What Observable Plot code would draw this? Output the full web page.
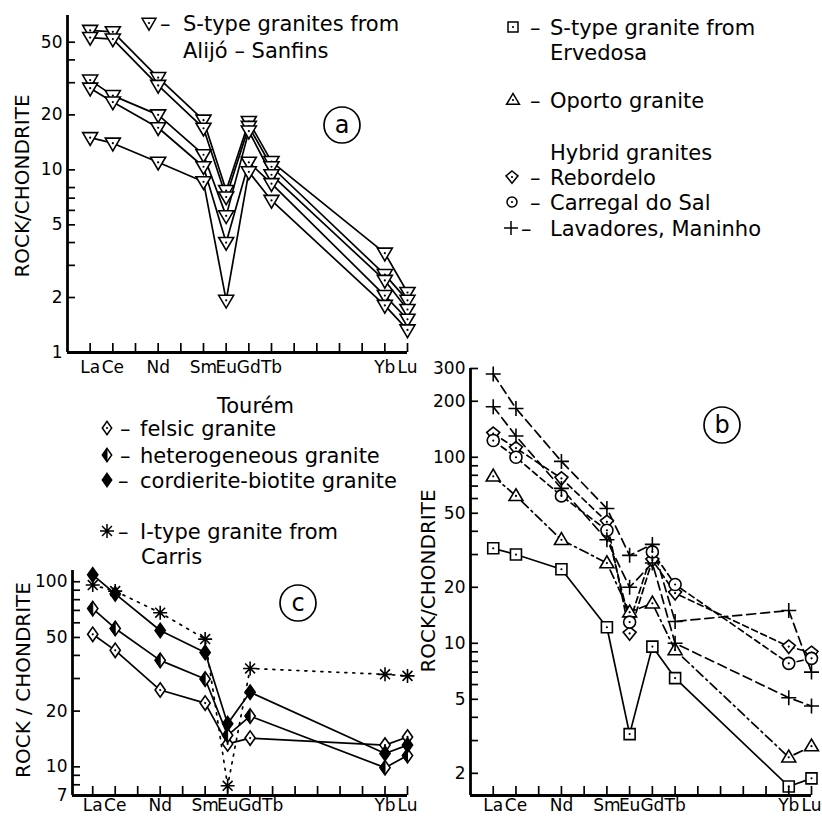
<!DOCTYPE html>
<html><head><meta charset="utf-8">
<script src="https://cdn.jsdelivr.net/npm/d3@7"></script>
<script src="https://cdn.jsdelivr.net/npm/@observablehq/plot@0.6"></script>
<style>
html,body{margin:0;padding:0;background:#fff;}
#wrap{position:relative;width:822px;height:817px;overflow:hidden;background:#fff;}
#wrap svg{position:absolute;left:0;top:0;}
</style></head><body><div id="wrap"></div>
<script>
// ---- REE sequence and tick labels ----
const elements = ["La","Ce","Pr","Nd","Pm","Sm","Eu","Gd","Tb","Dy","Ho","Er","Tm","Yb","Lu"];
const labeledElements = ["La","Ce","Nd","Sm","Eu","Gd","Tb","Yb","Lu"];

// ---- panel (a): S-type granites from Alijó-Sanfins ----
const measuredA = ["La","Ce","Nd","Sm","Eu","Gd","Tb","Yb","Lu"];
const alijo1 = [58, 57, 32, 18.7, 7.7, 18.4, 11.1, 3.5, 2.13];
const alijo2 = [53, 52, 29, 16.9, 7.1, 17.3, 10.4, 2.67, 1.93];
const alijo3 = [31, 25.5, 20, 12.1, 5.6, 16.3, 9.4, 2.48, 1.72];
const alijo4 = [28, 23.5, 17, 10.4, 4.0, 11.0, 8.4, 2.05, 1.52];
const alijo5 = [15, 14, 11, 8.6, 1.93, 9.75, 6.8, 1.81, 1.33];
const yTicksA = [1,2,3,4,5,6,7,8,10,20,30,40,50];
const yLabelsA = [1,2,5,10,20,50];

// ---- panel (b) ----
const measuredB = ["La","Ce","Nd","Sm","Eu","Gd","Tb","Yb","Lu"];
const ervedosa   = [32.4, 30, 25, 12.2, 3.25, 9.6, 6.5, 1.7, 1.88];
const oporto     = [79, 62, 36, 27, 14.7, 16.4, 9.2, 2.44, 2.8];
const rebordelo  = [134, 112, 77, 45, 11.3, 28, 18.6, 9.6, 8.9];
const carregal   = [123, 100, 62, 40.5, 13, 31, 20.7, 7.8, 8.3];
const lavadores1 = [280, 183, 95, 53, 29.7, 34, 13.1, 15, 7.0];
const lavadores2 = [187, 130, 68, 36, 20, 27, 10, 5.1, 4.6];
const yTicksB = [2,3,4,5,6,7,8,9,10,20,30,40,50,60,70,80,90,100,200,300];
const yLabelsB = [2,5,10,20,50,100,200,300];

// ---- panel (c) ----
const measuredC = ["La","Ce","Nd","Sm","Eu","Gd","Yb","Lu"];
const felsic        = [52, 42.6, 26, 22.1, 13.3, 14.3, 13.1, 14.5];
const heterogeneous = [71.6, 55.9, 37.6, 29.8, 14.8, 18.8, 9.9, 11.5];
const cordierite    = [109, 86, 54.5, 41.5, 17.1, 25.3, 11.8, 13.1];
const carris        = [96, 89, 68, 49, 7.9, 34, 31.6, 31];
const yTicksC = [7,8,9,10,20,30,40,50,60,70,80,90,100];
const yLabelsC = [7,10,20,50,100];

// ---- symbols ----
const W = 822, H = 817;
const FONT = "'DejaVu Sans', sans-serif";
function custom(fn){ return {draw(ctx, size){ fn(ctx, Math.sqrt(size/Math.PI)); }}; }
const triDown = custom((c,r)=>{c.moveTo(-1.07*r,-0.72*r);c.lineTo(1.07*r,-0.72*r);c.lineTo(0,1.1*r);c.closePath();});
const triUp = custom((c,r)=>{c.moveTo(-1.07*r,0.72*r);c.lineTo(1.07*r,0.72*r);c.lineTo(0,-1.1*r);c.closePath();});
const square = custom((c,r)=>{c.rect(-r,-r,2*r,2*r);});
const circle = custom((c,r)=>{c.moveTo(r,0);c.arc(0,0,r,0,2*Math.PI);});
const kite = custom((c,r)=>{c.moveTo(0,-r);c.lineTo(r,-0.2*r);c.lineTo(0,1.05*r);c.lineTo(-r,-0.2*r);c.closePath();});
const plus = custom((c,r)=>{c.moveTo(-r,0);c.lineTo(r,0);c.moveTo(0,-r);c.lineTo(0,r);});
const diamond = custom((c,r)=>{c.moveTo(0,-1.2*r);c.lineTo(0.85*r,0);c.lineTo(0,1.2*r);c.lineTo(-0.85*r,0);c.closePath();});
const halfDiamond = custom((c,r)=>{c.moveTo(0,-1.2*r);c.lineTo(0,1.2*r);c.lineTo(-0.85*r,0);c.closePath();});
const asterisk = custom((c,r)=>{for(let k=0;k<4;k++){const a=k*Math.PI/4;c.moveTo(-r*Math.cos(a),-r*Math.sin(a));c.lineTo(r*Math.cos(a),r*Math.sin(a));}});

function makePanel(cfg){
  const marks = [];
  const rowsOf = s => s.values.map((v,i)=>({x: elements.indexOf(cfg.measured[i]), y: v}));
  for (const s of cfg.series) {
    marks.push(Plot.line(rowsOf(s), {x:"x", y:"y", stroke:"black", strokeWidth:1.7, strokeDasharray: s.dash, curve:"linear"}));
  }
  for (const s of cfg.series) {
    const rows = rowsOf(s);
    marks.push(Plot.dot(rows, {x:"x", y:"y", symbol: s.symbol, r: s.r, fill: s.fill || "white", stroke:"black", strokeWidth:1.6}));
    if (s.half) marks.push(Plot.dot(rows, {x:"x", y:"y", symbol: s.half, r: s.r, fill:"black", stroke:"black", strokeWidth:1}));
    if (s.center) marks.push(Plot.dot(rows, {x:"x", y:"y", r:1.1, fill:"black", stroke:"none"}));
  }
  marks.push(Plot.axisX({ticks: d3.range(elements.length), tickSize: -9, tickPadding: cfg.xPad, strokeWidth: 1.7, label: null,
    tickFormat: i => labeledElements.includes(elements[i]) ? elements[i] : ""}));
  marks.push(Plot.axisY({ticks: cfg.yTicks, tickSize: -8, tickPadding: 13, strokeWidth: 1.7, label: null,
    tickFormat: d => cfg.yLabels.includes(d) ? String(d) : ""}));
  marks.push(Plot.ruleX([cfg.xDomain[0]], {strokeWidth: 2.8}));
  marks.push(Plot.ruleY([cfg.yDomain[0]], {strokeWidth: 2.8}));
  const f = cfg.frame;
  const svg = Plot.plot({
    width: W, height: H,
    marginLeft: f.left, marginRight: W - f.right, marginTop: f.top, marginBottom: H - f.bottom,
    x: {type: "linear", domain: cfg.xDomain, label: null},
    y: {type: "log", domain: cfg.yDomain, label: null},
    style: {background: "transparent", overflow: "visible", fontFamily: FONT, fontSize: "17px", color: "black"},
    marks
  });
  svg.style.position = "absolute"; svg.style.left = "0px"; svg.style.top = "0px";
  return svg;
}

const wrap = document.getElementById("wrap");

wrap.appendChild(makePanel({
  frame: {left: 67, right: 407, top: 15, bottom: 352}, xPad: 17,
  xDomain: [-1, 14], yDomain: [1, 70], yTicks: yTicksA, yLabels: yLabelsA, measured: measuredA,
  series: [alijo1, alijo2, alijo3, alijo4, alijo5].map(v => ({values: v, symbol: triDown, r: 7, center: true}))
}));

wrap.appendChild(makePanel({
  frame: {left: 470, right: 811, top: 368, bottom: 795}, xPad: 12,
  xDomain: [-1, 14], yDomain: [1.52, 300], yTicks: yTicksB, yLabels: yLabelsB, measured: measuredB,
  series: [
    {values: ervedosa, symbol: square, r: 5.5, center: true},
    {values: oporto, symbol: triUp, r: 6.5, center: true, dash: "9,4,2,4"},
    {values: rebordelo, symbol: kite, r: 6.5, center: true, dash: "6,4"},
    {values: carregal, symbol: circle, r: 6, center: true, dash: "6,4"},
    {values: lavadores1, symbol: plus, r: 7.5, dash: "9,5"},
    {values: lavadores2, symbol: plus, r: 7.5, dash: "9,5"}
  ]
}));

wrap.appendChild(makePanel({
  frame: {left: 72, right: 407, top: 570, bottom: 795}, xPad: 12,
  xDomain: [-0.9, 14], yDomain: [7, 115], yTicks: yTicksC, yLabels: yLabelsC, measured: measuredC,
  series: [
    {values: carris, symbol: asterisk, r: 7, dash: "2,6"},
    {values: felsic, symbol: diamond, r: 6, center: true},
    {values: heterogeneous, symbol: diamond, r: 6, half: halfDiamond},
    {values: cordierite, symbol: diamond, r: 6, fill: "black"}
  ]
}));

// ---- overlay: legends, panel letters, axis titles ----
const ov = d3.select(wrap).append("svg").attr("width", W).attr("height", H)
  .style("font-family", FONT).style("overflow", "visible");
function symPath(sym, r){ const p = d3.path(); sym.draw(p, r*r*Math.PI); return p.toString(); }
function legendSym(x, y, sym, r, opts = {}){
  ov.append("path").attr("transform", `translate(${x},${y})`).attr("d", symPath(sym, r))
    .attr("fill", opts.fill || "white").attr("stroke", "black").attr("stroke-width", 1.5);
  if (opts.half) ov.append("path").attr("transform", `translate(${x},${y})`).attr("d", symPath(opts.half, r)).attr("fill", "black").attr("stroke","black");
  if (opts.center) ov.append("circle").attr("cx", x).attr("cy", y).attr("r", 1.1).attr("fill", "black");
}
function txt(x, y, s, size = 21, extra = {}){
  const t = ov.append("text").attr("x", x).attr("y", y).attr("dy", "0.36em").attr("font-size", size).text(s);
  for (const k in extra) t.attr(k, extra[k]);
  return t;
}
function entry(sx, y, sym, r, opts, dashX, textX, label){
  if (sym) legendSym(sx, y, sym, r, opts);
  if (dashX != null) txt(dashX, y, "–");
  txt(textX, y, label);
}
// panel (a) legend
entry(149, 23, triDown, 6.5, {center: true}, 160, 183, "S-type granites from");
txt(183, 50, "Alijó – Sanfins");
// panel (b) legend
entry(513, 27, square, 5, {center: true}, 530, 550, "S-type granite from");
txt(550, 52, "Ervedosa");
entry(513, 100, triUp, 6, {center: true}, 530, 550, "Oporto granite");
txt(550, 152, "Hybrid granites");
entry(512, 177, kite, 6, {center: true}, 530, 550, "Rebordelo");
entry(512, 202, circle, 5, {center: true}, 530, 550, "Carregal do Sal");
entry(511, 228, plus, 7, {}, 521, 550, "Lavadores, Maninho");
// panel (c) legend
txt(217, 405, "Tourém");
entry(107, 428, diamond, 5.5, {center: true}, 120, 140, "felsic granite");
entry(107, 455, diamond, 5.5, {half: halfDiamond}, 120, 140, "heterogeneous granite");
entry(107, 480, diamond, 5.5, {fill: "black"}, 118, 140, "cordierite-biotite granite");
entry(107, 531, asterisk, 7, {}, 118, 140, "I-type granite from");
txt(141, 556, "Carris");
// panel letters
[[342, 125, "a"], [722, 425, "b"], [298, 603, "c"]].forEach(([x, y, l]) => {
  ov.append("circle").attr("cx", x).attr("cy", y).attr("r", 18).attr("fill", "none").attr("stroke", "black").attr("stroke-width", 1.7);
  txt(x, y - 1, l, 24, {"text-anchor": "middle"});
});
// axis titles
[[22, 186, "ROCK/CHONDRITE"], [428, 581, "ROCK/CHONDRITE"], [23, 680, "ROCK / CHONDRITE"]].forEach(([x, y, s]) => {
  ov.append("text").attr("transform", `translate(${x},${y}) rotate(-90)`).attr("text-anchor", "middle")
    .attr("dy", "0.36em").attr("font-size", 20).text(s);
});
</script></body></html>
